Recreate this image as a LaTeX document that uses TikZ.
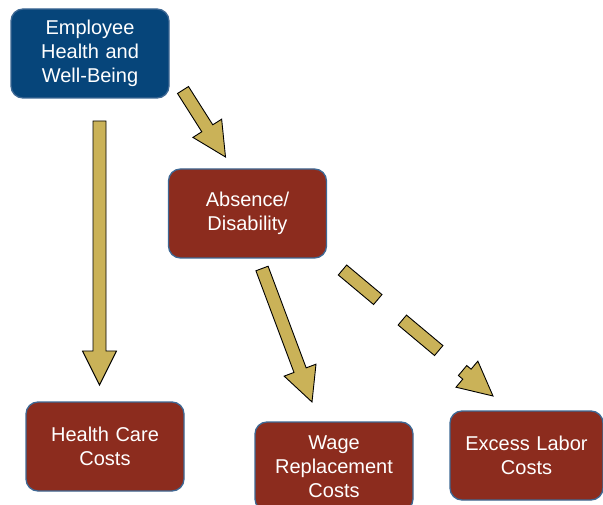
\documentclass[tikz,border=0pt]{standalone}
\usepackage{fontspec}
\setmainfont{Liberation Sans}
\usetikzlibrary{calc}
\definecolor{bluefill}{RGB}{6,69,122}
\definecolor{redfill}{RGB}{140,44,30}
\definecolor{boxline}{RGB}{62,104,148}
\definecolor{arrowfill}{RGB}{202,178,88}
\tikzset{
  box/.style={draw=boxline, line width=1.3pt, rounded corners=12pt, minimum width=158pt,
    minimum height=89pt, inner sep=0pt, text width=150pt, align=center, text=white,
    font=\fontsize{20}{24}\selectfont},
  bluebox/.style={box, fill=bluefill},
  redbox/.style={box, fill=redfill},
  arrowstyle/.style={fill=arrowfill, draw=black, line width=0.9pt, line join=miter}
}
\newcommand\blockarrow[2]{%
  \path ($(#2)!34pt!(#1)$) coordinate (ba-h);
  \filldraw[arrowstyle] ($(#1)!6.5pt!90:(#2)$) -- ($(ba-h)!6.5pt!90:(#2)$) -- ($(ba-h)!17pt!90:(#2)$)
    -- (#2) -- ($(ba-h)!17pt!-90:(#2)$) -- ($(ba-h)!6.5pt!-90:(#2)$) -- ($(#1)!6.5pt!-90:(#2)$) -- cycle;}
\newcommand\barseg[4]{%
  \path ($(#1)!#3!(#2)$) coordinate (bs-a) ($(#1)!#4!(#2)$) coordinate (bs-b);
  \filldraw[arrowstyle] ($(bs-a)!6.5pt!90:(bs-b)$) -- ($(bs-b)!6.5pt!-90:(bs-a)$)
    -- ($(bs-b)!6.5pt!90:(bs-a)$) -- ($(bs-a)!6.5pt!-90:(bs-b)$) -- cycle;}
\begin{document}
\begin{tikzpicture}[x=1pt,y=-1pt]
\useasboundingbox (0,0) rectangle (603,505);
\node[bluebox] (emp) at (90,53.5) {Employee\\Health and\\Well-Being};
\node[redbox] (abs) at (247.5,213.5) {Absence/\\Disability};
\node[redbox] (hc) at (105,446.5) {Health Care\\Costs};
\node[redbox] (wage) at (334,466.5) {Wage\\Replacement\\Costs};
\node[redbox, minimum width=153pt] (exc) at (526.5,455.5) {Excess Labor\\Costs};
% connectors
\coordinate (a1s) at (99.5,121);
\coordinate (a1t) at (99.5,385);
\coordinate (a2s) at (183,90);
\coordinate (a2t) at (225.5,157);
\coordinate (a3s) at (262,268.5);
\coordinate (a3t) at (312,402);
\coordinate (a4s) at (342.5,270);
\coordinate (a4t) at (493,396);
\blockarrow{a1s}{a1t}
\blockarrow{a2s}{a2t}
\blockarrow{a3s}{a3t}
\barseg{a4s}{a4t}{0pt}{46pt}
\barseg{a4s}{a4t}{78pt}{125.5pt}
\path ($(a4s)!156.6pt!(a4t)$) coordinate (a4d);
\blockarrow{a4d}{a4t}
\end{tikzpicture}
\end{document}
